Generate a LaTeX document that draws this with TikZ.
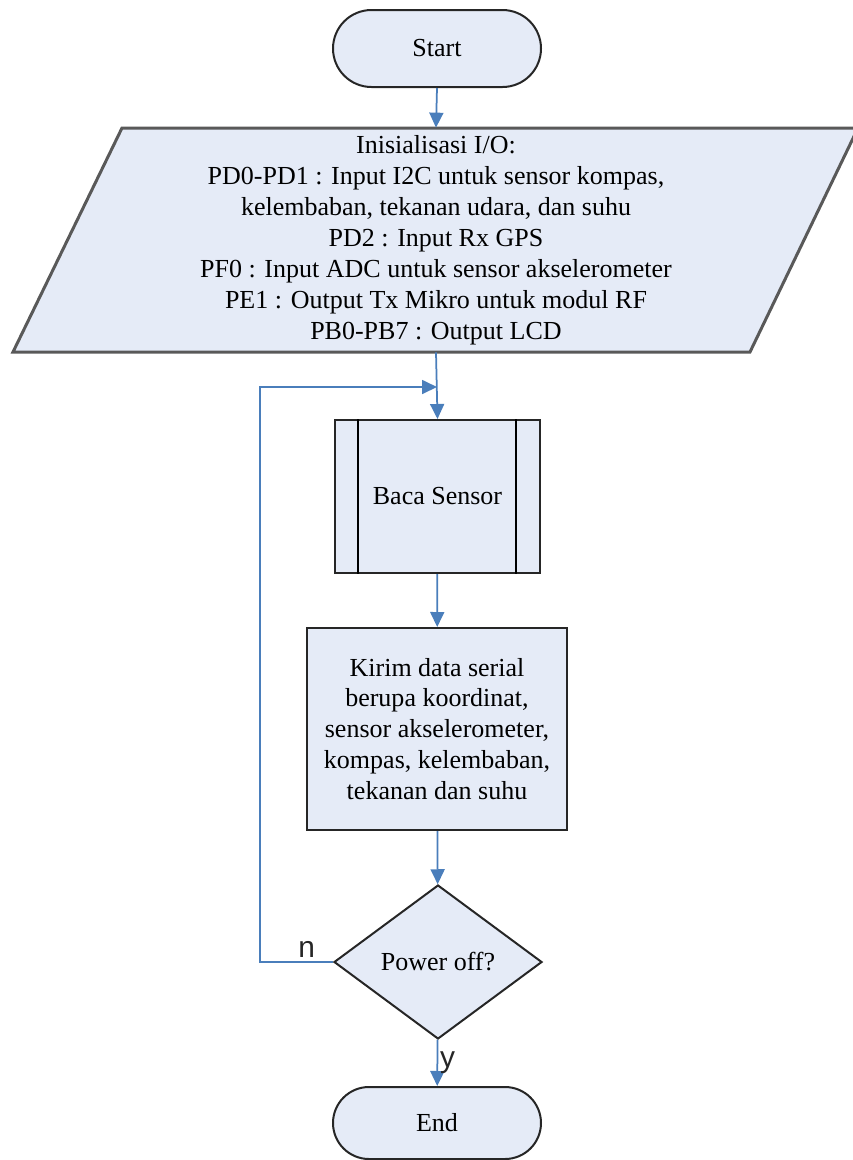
\documentclass[tikz,border=0pt]{standalone}
\usepackage{fontspec}
\setmainfont{Liberation Serif}
\newfontfamily\lblfont{Liberation Sans}
\usetikzlibrary{shapes.geometric,shapes.misc,arrows.meta,calc}

\definecolor{boxfill}{RGB}{229,235,247}
\definecolor{flowblue}{RGB}{74,126,187}

\begin{document}
\begin{tikzpicture}[x=0.2mm, y=-0.2mm,
    font=\fontsize{14.8}{17.6}\selectfont,
    box/.style={draw=black!85, fill=boxfill, line width=0.4mm, align=center, inner sep=0pt},
    term/.style={box, rounded rectangle, minimum width=41.6mm, minimum height=15.4mm},
    flow/.style={draw=flowblue, line width=0.35mm, -{Triangle[length=3mm,width=2.8mm]}},
    lbl/.style={font=\lblfont\fontsize{17}{20}\selectfont, text=black!85}
  ]
      \clip (0,0) rectangle (853,1160);

      % Start
      \node[term] (start) at (437,48.5) {Start};

      % Parallelogram for the I/O setup
      \draw[draw=black!65, fill=boxfill, line width=0.6mm]
        (13,352) -- (122,128) -- (858,128) -- (750,352) -- cycle;
      \node[align=center, inner sep=0pt, minimum height=44.8mm] (io) at (436,240)
        {Inisialisasi I/O:\\
         PD0-PD1 : Input I2C untuk sensor kompas,\\
         kelembaban, tekanan udara, dan suhu\\
         PD2 : Input Rx GPS\\
         PF0 : Input ADC untuk sensor akselerometer\\
         PE1 : Output Tx Mikro untuk modul RF\\
         PB0-PB7 : Output LCD};

      % Predefined process
      \node[box, minimum width=41mm, minimum height=30.6mm] (baca) at (437.5,496.5) {Baca Sensor};
      \draw[line width=0.4mm] ([xshift=4.8mm]baca.north west) -- ([xshift=4.8mm]baca.south west);
      \draw[line width=0.4mm] ([xshift=-5mm]baca.north east) -- ([xshift=-5mm]baca.south east);

      % Send data
      \node[box, minimum width=52mm, minimum height=40.4mm] (kirim) at (437,729)
        {Kirim data serial\\
         berupa koordinat,\\
         sensor akselerometer,\\
         kompas, kelembaban,\\
         tekanan dan suhu};

      % Decision
      \node[box, diamond, aspect=1.35, minimum width=41.6mm, minimum height=30.8mm] (dec) at (438,962) {Power off?};

      % End
      \node[term, minimum height=14.4mm] (end) at (437,1123) {End};

      % Loop points
      \coordinate (join) at (437,387);
      \coordinate (back) at (260,962);

      % Connectors
      \draw[flow] (start.south) -- (io.north);
      \draw[flow] (io.south) -- (baca.north);
      \draw[flow] (baca) -- (kirim);
      \draw[flow] (kirim) -- (dec);
      \draw[flow] (dec) -- node[lbl, right, inner sep=1pt] {y} (end);
      \draw[flow] (dec.west) -- node[lbl, above, pos=0.36, inner sep=2pt] {n} (back) |- (join);

    \end{tikzpicture}
\end{document}
